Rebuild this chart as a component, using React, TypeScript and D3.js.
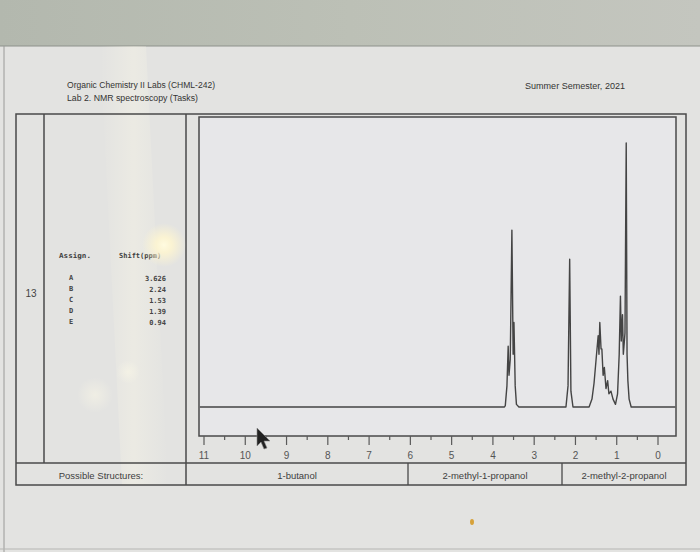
import React from "react";
import * as d3 from "d3";

// ---- data ----
const headerLines = ["Organic Chemistry II Labs (CHML-242)", "Lab 2. NMR spectroscopy (Tasks)"];
const semesterLabel = "Summer Semester, 2021";
const rowNumber = "13";
const assignLetters = ["A", "B", "C", "D", "E"];
const shiftValues = ["3.626", "2.24", "1.53", "1.39", "0.94"];
const structureLabels = ["1-butanol", "2-methyl-1-propanol", "2-methyl-2-propanol"];
const majorTicks = [11, 10, 9, 8, 7, 6, 5, 4, 3, 2, 1, 0];
const minorTicks = [10.5, 9.5, 8.5, 7.5, 6.5, 5.5, 4.5, 3.5, 2.5, 1.5, 0.5];

// spectrum trace: chemical shift (ppm) and relative intensity (tallest = 100)
const specPpm = [
  11.1, 3.72, 3.70, 3.66, 3.63, 3.61, 3.58, 3.54, 3.51, 3.49, 3.46, 3.43, 3.37,
  2.23, 2.18, 2.14, 2.11, 2.06,
  1.67, 1.60, 1.55, 1.50, 1.45, 1.43, 1.41, 1.38, 1.36, 1.33, 1.30, 1.26, 1.22, 1.19, 1.14, 1.09, 1.03,
  0.98, 0.94, 0.91, 0.89, 0.86, 0.84, 0.80, 0.77, 0.75, 0.73, 0.70, 0.65, -0.42,
];
const specIntensity = [
  0, 0, 0.5, 8, 23, 12, 18, 67, 20, 32, 8, 1, 0,
  0, 8, 56, 6, 0,
  0, 3, 9, 18, 27, 20, 32, 22, 22, 12, 15, 7, 10, 5, 6, 3, 1,
  5, 20, 42, 25, 35, 20, 28, 100, 20, 10, 3, 0, 0,
];

const ink = "#4a4a4a";

export default function App() {
  const x = d3.scaleLinear().domain([11, 0]).range([204, 658]);
  const y = d3.scaleLinear().domain([0, 100]).range([407, 143]);
  const pts: [number, number][] = specPpm.map((p, i) => [p, specIntensity[i]]);
  const line = d3
    .line<[number, number]>()
    .x((d) => x(d[0]))
    .y((d) => y(d[1]));

  const box = { x0: 199, y0: 117, x1: 676, y1: 436 };
  const structCells = [
    [186, 408],
    [408, 562],
    [562, 686],
  ];

  return (
    <svg
      width={700}
      height={552}
      style={{ position: "absolute", left: 0, top: 0, display: "block" }}
      fontFamily="Liberation Sans, Arial, sans-serif"
    >
      <defs>
        <linearGradient id="topBg" x1="0" x2="1" y1="0" y2="0">
          <stop offset="0" stopColor="#b3b8ae" />
          <stop offset="0.5" stopColor="#bcc0b6" />
          <stop offset="1" stopColor="#c4c6bf" />
        </linearGradient>
        <linearGradient id="streak" x1="0" x2="1" y1="0" y2="0">
          <stop offset="0" stopColor="#fffbe8" stopOpacity="0" />
          <stop offset="0.5" stopColor="#fffbe8" stopOpacity="0.3" />
          <stop offset="1" stopColor="#fffbe8" stopOpacity="0" />
        </linearGradient>
        <radialGradient id="glare">
          <stop offset="0" stopColor="#fffbe0" stopOpacity="1" />
          <stop offset="0.35" stopColor="#fff6d0" stopOpacity="0.85" />
          <stop offset="1" stopColor="#fff6d0" stopOpacity="0" />
        </radialGradient>
        <radialGradient id="glare2">
          <stop offset="0" stopColor="#fffbe8" stopOpacity="0.45" />
          <stop offset="1" stopColor="#fffbe8" stopOpacity="0" />
        </radialGradient>
      </defs>

      {/* background */}
      <rect x={0} y={0} width={700} height={552} fill="#e3e3e1" />
      <rect x={0} y={0} width={700} height={46} fill="url(#topBg)" />
      <line x1={0} x2={700} y1={46} y2={46} stroke="#8e918b" strokeWidth={1.2} />
      <line x1={4} x2={4} y1={46} y2={552} stroke="#9a9a98" strokeWidth={1} />
      <line x1={0} x2={700} y1={549} y2={549} stroke="#b5b5b2" strokeWidth={1} />

      {/* light streak over left column */}
      <polygon points="100,46 146,46 168,485 122,485" fill="url(#streak)" />

      {/* header */}
      <text x={67} y={88} fontSize={8.5} fill="#333" textLength={148} lengthAdjust="spacingAndGlyphs">
        {headerLines[0]}
      </text>
      <text x={67} y={101} fontSize={8.5} fill="#333" textLength={131} lengthAdjust="spacingAndGlyphs">
        {headerLines[1]}
      </text>
      <text x={525} y={89} fontSize={8.5} fill="#333" textLength={100} lengthAdjust="spacingAndGlyphs">
        {semesterLabel}
      </text>

      {/* table */}
      <rect x={16} y={114} width={670} height={371} fill="none" stroke={ink} strokeWidth={1.5} />
      <line x1={16} x2={686} y1={463} y2={463} stroke={ink} strokeWidth={1.5} />
      <line x1={44} x2={44} y1={114} y2={463} stroke={ink} strokeWidth={1.5} />
      <line x1={186} x2={186} y1={114} y2={485} stroke={ink} strokeWidth={1.5} />
      {structCells.slice(1).map((c, i) => (
        <line key={i} x1={c[0]} x2={c[0]} y1={463} y2={485} stroke={ink} strokeWidth={1.3} />
      ))}

      {/* spectrum frame */}
      <rect
        x={box.x0}
        y={box.y0}
        width={box.x1 - box.x0}
        height={box.y1 - box.y0}
        fill="#e7e7e9"
        stroke={ink}
        strokeWidth={1.5}
      />
      <path d={line(pts) || ""} fill="none" stroke="#444" strokeWidth={1.4} strokeLinejoin="round" />

      {/* axis ticks */}
      {majorTicks.map((t) => (
        <g key={"M" + t}>
          <line x1={x(t)} x2={x(t)} y1={box.y1} y2={box.y1 + 9} stroke="#5a5a5a" strokeWidth={1.2} />
          <text x={x(t)} y={459} fontSize={10} fill="#555" textAnchor="middle">
            {t}
          </text>
        </g>
      ))}
      {minorTicks.map((t) => (
        <line key={"m" + t} x1={x(t)} x2={x(t)} y1={box.y1} y2={box.y1 + 4} stroke="#5a5a5a" strokeWidth={1.2} />
      ))}

      {/* left column content */}
      <text x={31} y={297} fontSize={10} fill="#444" textAnchor="middle">
        {rowNumber}
      </text>
      <text x={59} y={258} fontSize={7} fontWeight="bold" fill="#3e3e3e" fontFamily="DejaVu Sans Mono, monospace" textLength={32} lengthAdjust="spacingAndGlyphs">
        Assign.
      </text>
      <text x={119} y={258} fontSize={7} fontWeight="bold" fill="#3e3e3e" fontFamily="DejaVu Sans Mono, monospace">
        Shift(ppm)
      </text>
      {assignLetters.map((a, i) => (
        <text key={a} x={71} y={280 + i * 11} fontSize={7} fontWeight="bold" fill="#444" textAnchor="middle" fontFamily="DejaVu Sans Mono, monospace">
          {a}
        </text>
      ))}
      {shiftValues.map((v, i) => (
        <text key={v} x={166} y={281 + i * 11} fontSize={7} fontWeight="bold" fill="#444" textAnchor="end" fontFamily="DejaVu Sans Mono, monospace">
          {v}
        </text>
      ))}

      {/* bottom row */}
      <text x={101} y={479} fontSize={9.5} fill="#3e3e3e" textAnchor="middle">
        Possible Structures:
      </text>
      {structureLabels.map((s, i) => (
        <text key={s} x={(structCells[i][0] + structCells[i][1]) / 2} y={479} fontSize={9.5} fill="#3e3e3e" textAnchor="middle">
          {s}
        </text>
      ))}

      {/* glare spots */}
      <circle cx={164} cy={245} r={22} fill="url(#glare)" />
      <circle cx={128} cy={372} r={12} fill="url(#glare2)" />
      <circle cx={95} cy={395} r={18} fill="url(#glare2)" />

      {/* mouse cursor */}
      <polygon
        points="257,428 257,446 261,442 264,449 267,448 264,441 270,441"
        fill="#222"
        stroke="#888"
        strokeWidth={0.6}
      />
      {/* small orange speck */}
      <ellipse cx={472} cy={522} rx={2} ry={3} fill="#d7a23a" />
    </svg>
  );
}
